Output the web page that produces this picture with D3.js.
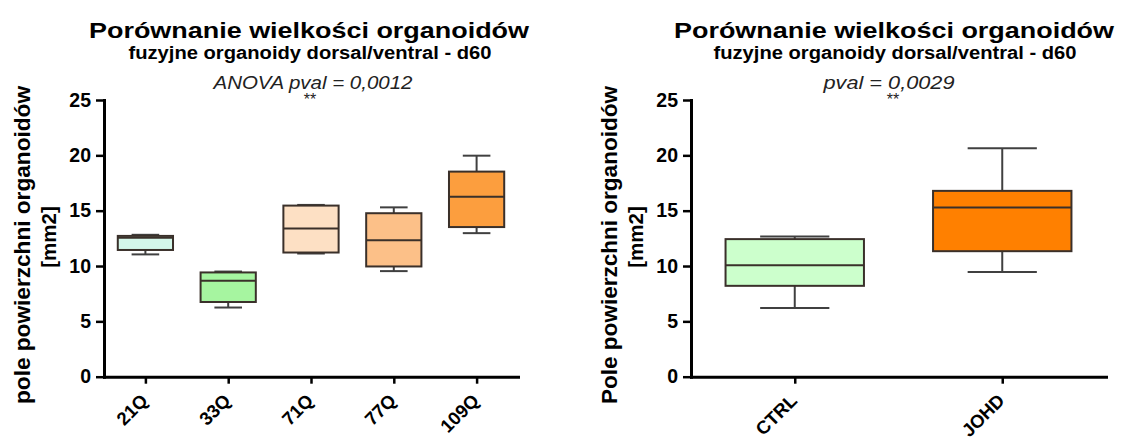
<!DOCTYPE html>
<html lang="pl">
<head>
<meta charset="UTF-8">
<title>Porównanie wielkości organoidów</title>
<script src="https://cdn.jsdelivr.net/npm/d3@7"></script>
<style>
    body { margin: 0; background: #fff; }
    svg { display: block; font-family: "Liberation Sans", Arial, sans-serif; }
</style>
</head>
<body>
<script>
// left panel - groups by CAG length
var groupsA = ['21Q', '33Q', '71Q', '77Q', '109Q']
var minA = [11.05, 6.25, 11.13, 9.54, 12.97]
var q1A  = [11.45, 6.75, 11.22, 9.96, 13.52]
var medA = [12.55, 8.66, 13.39, 12.33, 16.25]
var q3A  = [12.72, 9.42, 15.46, 14.77, 18.53]
var maxA = [12.82, 9.50, 15.52, 15.30, 19.97]
var colorsA = ['#d4f7ea', '#a6f5a0', '#fde0c4', '#fcc088', '#fc9e3e']

// right panel - CTRL vs JOHD
var groupsB = ['CTRL', 'JOHD']
var minB = [6.20, 9.45]
var q1B  = [8.21, 11.34]
var medB = [10.08, 15.28]
var q3B  = [12.43, 16.79]
var maxB = [12.66, 20.64]
var colorsB = ['#ccffcc', '#ff8000']

var yTicks = [0, 5, 10, 15, 20, 25]

var W = 1123, H = 442

var svg = d3.select('body').append('svg')
    .attr('width', W)
    .attr('height', H)

var y = d3.scaleLinear().domain([0, 25]).range([376.7, 100])

function panel(p) {
    var g = svg.append('g')

    var x = d3.scalePoint()
        .domain(p.groups)
        .range([p.x0, p.x1])
        .padding(0.5)

    var step = x.step()
    var boxW = step * 0.667
    var capW = boxW / 2

    var rows = p.groups.map(function(d, i) {
        return {name: d, min: p.min[i], q1: p.q1[i], med: p.med[i], q3: p.q3[i], max: p.max[i], color: p.colors[i]}
    })

    // whiskers
    var wh = g.selectAll('.wh').data(rows).enter().append('g')
    wh.append('line')
        .attr('x1', d => x(d.name)).attr('x2', d => x(d.name))
        .attr('y1', d => y(d.max)).attr('y2', d => y(d.q3))
    wh.append('line')
        .attr('x1', d => x(d.name)).attr('x2', d => x(d.name))
        .attr('y1', d => y(d.q1)).attr('y2', d => y(d.min))
    wh.append('line')
        .attr('x1', d => x(d.name) - capW / 2).attr('x2', d => x(d.name) + capW / 2)
        .attr('y1', d => y(d.max)).attr('y2', d => y(d.max))
    wh.append('line')
        .attr('x1', d => x(d.name) - capW / 2).attr('x2', d => x(d.name) + capW / 2)
        .attr('y1', d => y(d.min)).attr('y2', d => y(d.min))
    wh.selectAll('line').attr('stroke', '#404040').attr('stroke-width', 2)

    // boxes
    g.selectAll('.box').data(rows).enter().append('rect')
        .attr('x', d => x(d.name) - boxW / 2)
        .attr('width', boxW)
        .attr('y', d => y(d.q3))
        .attr('height', d => y(d.q1) - y(d.q3))
        .attr('fill', d => d.color)
        .attr('stroke', '#3a302a')
        .attr('stroke-width', 2)

    g.selectAll('.med').data(rows).enter().append('line')
        .attr('x1', d => x(d.name) - boxW / 2).attr('x2', d => x(d.name) + boxW / 2)
        .attr('y1', d => y(d.med)).attr('y2', d => y(d.med))
        .attr('stroke', '#3a302a')
        .attr('stroke-width', 2)

    // axes
    var yAxis = g.append('g')
        .attr('transform', 'translate(' + p.x0 + ',0)')
        .call(d3.axisLeft(y).tickValues(yTicks).tickSize(8).tickSizeOuter(0).tickPadding(5))

    var xAxis = g.append('g')
        .attr('transform', 'translate(0,' + y(0) + ')')
        .call(d3.axisBottom(x).tickSize(7).tickSizeOuter(0))

    g.selectAll('.domain').attr('stroke', '#000').attr('stroke-width', 3).attr('stroke-linecap', 'square')
    g.selectAll('.tick line').attr('stroke', '#000').attr('stroke-width', 2.5)
    g.selectAll('.tick text')
        .attr('fill', '#000')
        .style('font-size', '19.5px')
        .style('font-weight', 'bold')
        .style('font-family', '"Liberation Sans", Arial, sans-serif')

    xAxis.selectAll('text')
        .attr('x', 3).attr('y', 25).attr('dy', 0)
        .attr('text-anchor', 'end')
        .attr('transform', 'rotate(-45,3,25)')
        .style('font-size', '18.5px')

    // titles
    g.append('text')
        .attr('x', p.cx).attr('y', 37.5)
        .attr('text-anchor', 'middle')
        .attr('textLength', 440).attr('lengthAdjust', 'spacingAndGlyphs')
        .style('font-size', '22.5px').style('font-weight', 'bold')
        .text('Porównanie wielkości organoidów')

    g.append('text')
        .attr('x', p.cx + 1).attr('y', 59)
        .attr('text-anchor', 'middle')
        .attr('textLength', 363).attr('lengthAdjust', 'spacingAndGlyphs')
        .style('font-size', '17.5px').style('font-weight', 'bold')
        .text('fuzyjne organoidy dorsal/ventral - d60')

    g.append('text')
        .attr('x', p.pvalX).attr('y', 89)
        .attr('text-anchor', 'middle')
        .attr('textLength', p.pvalW).attr('lengthAdjust', 'spacingAndGlyphs')
        .style('font-size', '18px').style('font-style', 'italic').attr('fill', '#222')
        .text(p.pval)

    g.append('text')
        .attr('x', p.starX).attr('y', 105)
        .attr('text-anchor', 'middle')
        .style('font-size', '16px').attr('fill', '#222')
        .text('**')

    // y label
    g.append('text')
        .attr('transform', 'translate(' + (p.x0 - 74) + ',245) rotate(-90)')
        .attr('text-anchor', 'middle')
        .attr('textLength', 318).attr('lengthAdjust', 'spacingAndGlyphs')
        .style('font-size', '22px').style('font-weight', 'bold')
        .text(p.ylabel)

    g.append('text')
        .attr('transform', 'translate(' + (p.x0 - 48) + ',237) rotate(-90)')
        .attr('text-anchor', 'middle')
        .style('font-size', '20.5px').style('font-weight', 'bold')
        .text('[mm2]')
}

panel({
    groups: groupsA, min: minA, q1: q1A, med: medA, q3: q3A, max: maxA, colors: colorsA,
    x0: 104, x1: 518, cx: 309,
    pval: 'ANOVA pval = 0,0012', pvalX: 313, pvalW: 199, starX: 310,
    ylabel: 'pole powierzchni organoidów'
})

panel({
    groups: groupsB, min: minB, q1: q1B, med: medB, q3: q3B, max: maxB, colors: colorsB,
    x0: 691, x1: 1106, cx: 894,
    pval: 'pval = 0,0029', pvalX: 889, pvalW: 131, starX: 893,
    ylabel: 'Pole powierzchni organoidów'
})
</script>
</body>
</html>
